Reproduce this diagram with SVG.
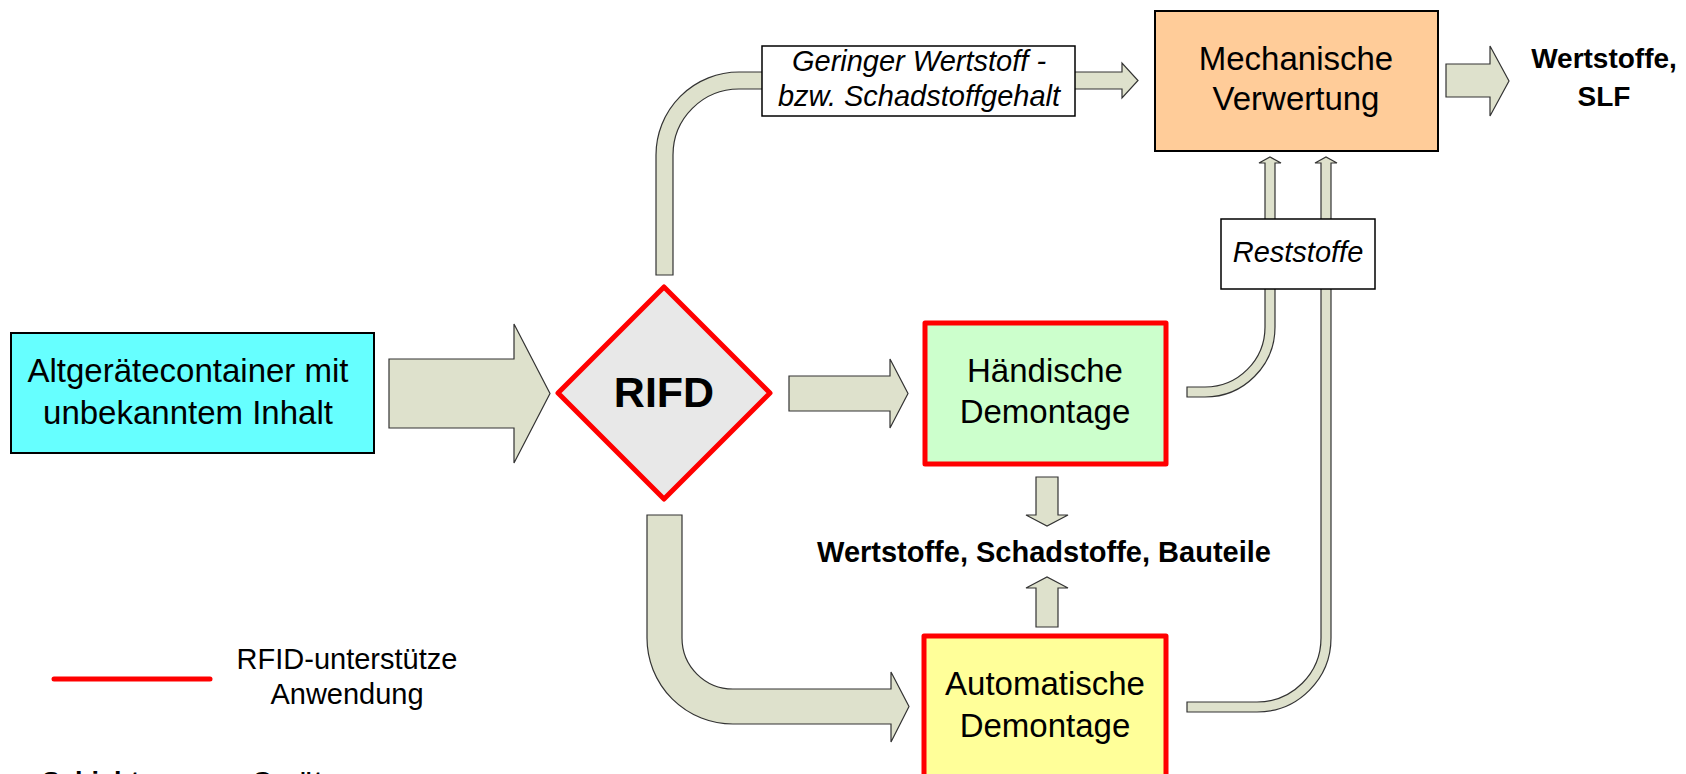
<svg xmlns="http://www.w3.org/2000/svg" width="1686" height="774" viewBox="0 0 1686 774">
  <style>
    text { font-family: "Liberation Sans", Arial, sans-serif; fill: #000; }
    .lbl { font-size: 33px; text-anchor: middle; }
    .note { font-size: 29px; font-style: italic; text-anchor: middle; }
    .bold { font-weight: bold; text-anchor: middle; }
    .pipe { fill: #DEE1CC; stroke: #333; stroke-width: 1.2; stroke-linejoin: miter; }
    .box { stroke: #000; stroke-width: 2; }
    .rfid { stroke: #FF0000; stroke-width: 5; stroke-linejoin: round; }
    .tag { fill: #FFFFFF; stroke: #000; stroke-width: 1.5; }
  </style>

  <rect width="1686" height="774" fill="#FFFFFF"/>

  <!-- flow connectors (block arrows and pipes) -->
  <g id="connectors">
    <!-- container to RFID gate -->
    <polygon class="pipe" points="389,359 514,359 514,324 550,393.5 514,463 514,428 389,428"/>
    <!-- RFID gate to manual dismantling -->
    <polygon class="pipe" points="789,376 890,376 890,359 908,393.5 890,428 890,411 789,411"/>
    <!-- RFID gate up to mechanical recycling -->
    <path class="pipe" d="M656,275 L656,155 A83,83 0 0 1 739,72 L1122,72 L1122,63 L1138,80.5 L1122,98 L1122,89 L739,89 A66,66 0 0 0 673,155 L673,275 Z"/>
    <!-- RFID gate down to automatic dismantling -->
    <path class="pipe" d="M647,515 L682,515 L682,638 A51,51 0 0 0 733,689 L891,689 L891,672 L909,706.5 L891,742 L891,724 L733,724 A86,86 0 0 1 647,638 Z"/>
    <!-- residues from manual dismantling -->
    <path class="pipe" d="M1187,387 L1205,387 A60,60 0 0 0 1265,327 L1265,163 L1259,163 L1270,157 L1281,163 L1275,163 L1275,327 A70,70 0 0 1 1205,397 L1187,397 Z"/>
    <!-- residues from automatic dismantling -->
    <path class="pipe" d="M1187,702 L1257,702 A64,64 0 0 0 1321,638 L1321,163 L1315,163 L1326,157 L1337,163 L1331,163 L1331,638 A74,74 0 0 1 1257,712 L1187,712 Z"/>
    <!-- outputs of both dismantling stations -->
    <polygon class="pipe" points="1036,477 1058,477 1058,515 1068,515 1047,526 1026,515 1036,515"/>
    <polygon class="pipe" points="1036,627 1058,627 1058,588 1068,588 1047,577 1026,588 1036,588"/>
    <!-- output of mechanical recycling -->
    <polygon class="pipe" points="1446,64 1490,64 1490,46 1509,81 1490,116 1490,97 1446,97"/>
  </g>

  <g id="container">
    <rect class="box" x="11" y="333" width="363" height="120" fill="#66FFFF"/>
    <text class="lbl" x="188" y="382">Altgerätecontainer mit</text>
    <text class="lbl" x="188" y="424">unbekanntem Inhalt</text>
  </g>

  <g id="rfid-gate">
    <polygon class="rfid" points="664,287 770,393 664,499 558,393" fill="#E8E8E8"/>
    <text class="bold" x="664" y="407" font-size="43">RIFD</text>
  </g>

  <g id="low-content-label">
    <rect class="tag" x="762" y="46" width="313" height="70"/>
    <text class="note" x="919" y="71">Geringer Wertstoff -</text>
    <text class="note" x="919" y="106">bzw. Schadstoffgehalt</text>
  </g>

  <g id="mechanical-recycling">
    <rect class="box" x="1155" y="11" width="283" height="140" fill="#FFCC99"/>
    <text class="lbl" x="1296" y="70">Mechanische</text>
    <text class="lbl" x="1296" y="110">Verwertung</text>
  </g>

  <g id="output-recyclables">
    <text class="bold" x="1604" y="68" font-size="28">Wertstoffe,</text>
    <text class="bold" x="1604" y="106" font-size="28">SLF</text>
  </g>

  <g id="residues-label">
    <rect class="tag" x="1221" y="219" width="154" height="70"/>
    <text class="note" x="1298" y="262" font-size="31">Reststoffe</text>
  </g>

  <g id="manual-dismantling">
    <rect class="rfid" x="925" y="323" width="241" height="141" fill="#CCFFCC"/>
    <text class="lbl" x="1045" y="382">Händische</text>
    <text class="lbl" x="1045" y="423">Demontage</text>
  </g>

  <g id="dismantling-output">
    <text class="bold" x="1044" y="562" font-size="29">Wertstoffe, Schadstoffe, Bauteile</text>
  </g>

  <g id="automatic-dismantling">
    <rect class="rfid" x="924" y="636" width="242" height="141" fill="#FFFF99"/>
    <text class="lbl" x="1045" y="695">Automatische</text>
    <text class="lbl" x="1045" y="737">Demontage</text>
  </g>

  <g id="legend">
    <line x1="54" y1="679" x2="210" y2="679" stroke="#FF0000" stroke-width="5" stroke-linecap="round"/>
    <text x="347" y="669" font-size="29" text-anchor="middle">RFID-unterstütze</text>
    <text x="347" y="704" font-size="29" text-anchor="middle">Anwendung</text>
    <text x="42" y="791" font-size="27" font-weight="bold">Schichtung von Geräten</text>
  </g>
</svg>
